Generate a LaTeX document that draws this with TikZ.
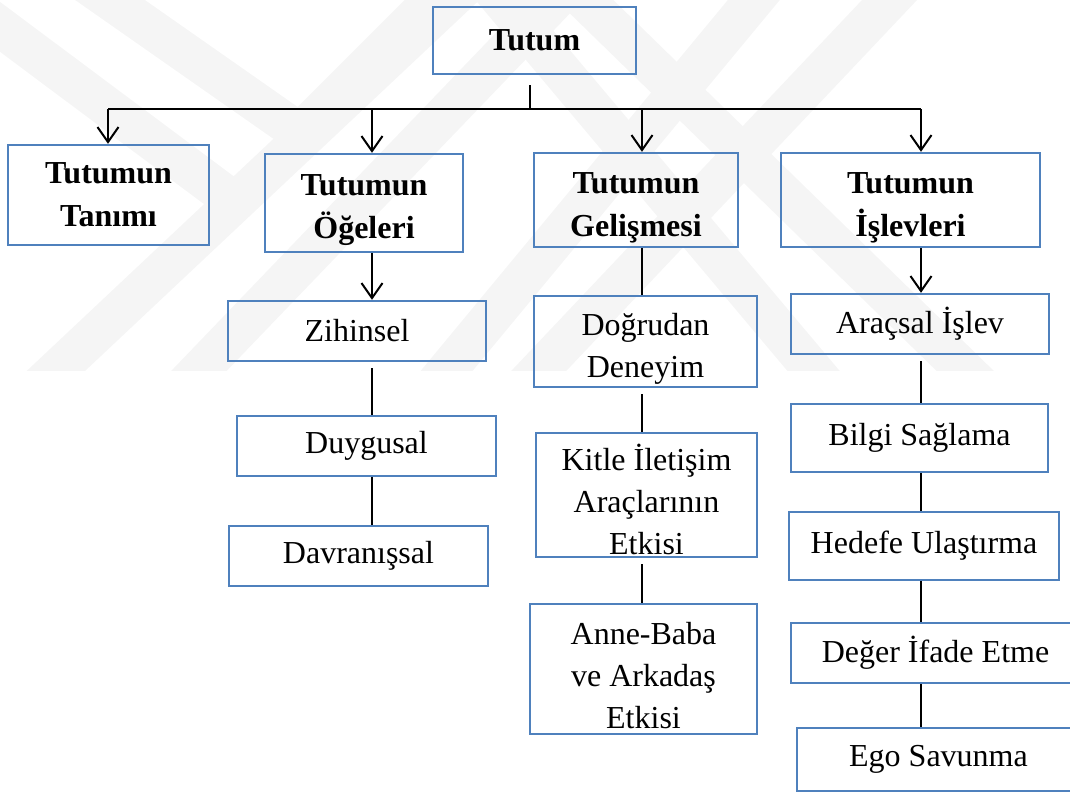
\documentclass[tikz,border=0pt]{standalone}
\usepackage{fontspec}
\setmainfont{Liberation Serif}
\usetikzlibrary{arrows.meta}
\definecolor{kutumavi}{RGB}{79,129,189}
\tikzset{
  kutu/.style={draw=kutumavi,line width=1.2pt,inner sep=0pt,align=center,font=\fontsize{16}{21}\selectfont},
  baslik/.style={kutu,font=\fontsize{16}{21.5}\selectfont\bfseries},
  cizgi/.style={line width=1pt},
  ok/.style={line width=1pt,-{Straight Barb[length=7.5pt,width=10.5pt]}},
  filigran/.style={line width=20pt,black!4}
}
\newcommand{\ust}{\rule{0pt}{18pt}}
\begin{document}
\begin{tikzpicture}[x=0.5pt,y=-0.5pt]
\clip (0,0) rectangle (1070,792);
\begin{scope}
\clip (0,0) rectangle (1070,370);
\draw[filigran] (-40,-3) -- (232,200);
\draw[filigran] (80,-21) -- (300,133) -- (455,-22);
\draw[filigran] (25,400) -- (480,-28);
\draw[filigran] (171,400) -- (582,-28);
\draw[filigran] (425,397) -- (777,-28);
\draw[filigran] (516,395) -- (916,-28);
\draw[filigran] (556,-28) -- (995,400);
\draw[filigran] (478,-28) -- (838,400);
\end{scope}
\node[baslik,minimum width=101.5pt,minimum height=33.5pt] (tutum) at (534.5,40.5) {Tutum};
\node[baslik,minimum width=100.5pt,minimum height=50pt] (tanim) at (108.5,195) {Tutumun\\Tanımı};
\node[baslik,minimum width=99pt,minimum height=49pt] (ogeler) at (364,203) {\ust Tutumun\\Öğeleri};
\node[baslik,minimum width=102pt,minimum height=47pt] (gelisme) at (636,200) {\ust Tutumun\\Gelişmesi};
\node[baslik,minimum width=129.5pt,minimum height=47pt] (islev) at (910.5,200) {\ust Tutumun\\İşlevleri};
\node[kutu,minimum width=129pt,minimum height=30pt] (zihinsel) at (357,331) {Zihinsel};
\node[kutu,minimum width=129.5pt,minimum height=30pt] (duygusal) at (366.5,446) {Duygusal};
\node[kutu,minimum width=129.5pt,minimum height=30pt] (davranis) at (358.5,556) {Davranışsal};
\node[kutu,minimum width=111.5pt,minimum height=45.5pt] (dogrudan) at (645.5,341.5) {\ust Doğrudan\\Deneyim};
\node[kutu,minimum width=110.5pt,minimum height=62pt] (kitle) at (646.5,495) {\ust Kitle İletişim\\Araçlarının\\Etkisi};
\node[kutu,minimum width=113.5pt,minimum height=65pt] (anne) at (643.5,669) {\ust Anne-Baba\\ve Arkadaş\\Etkisi};
\node[kutu,minimum width=129pt,minimum height=30pt] (aracsal) at (920,324) {Araçsal İşlev};
\node[kutu,minimum width=128.5pt,minimum height=34pt] (bilgi) at (919.5,438) {Bilgi Sağlama};
\node[kutu,minimum width=135pt,minimum height=34pt] (hedefe) at (924,546) {Hedefe Ulaştırma};
\node[kutu,minimum width=144.5pt,minimum height=30pt] (deger) at (935.5,653) {Değer İfade Etme};
\node[kutu,minimum width=141.5pt,minimum height=31.5pt] (ego) at (938.5,759.5) {Ego Savunma};
\coordinate (t) at (530,109);
\coordinate (b1) at (108,109);
\coordinate (b2) at (372,109);
\coordinate (b3) at (642,109);
\coordinate (b4) at (921,109);
\draw[cizgi,shorten <=5pt] (tutum.south -| t) -- (t);
\draw[cizgi] (b1) -- (b4);
\draw[ok] (b1) -- (tanim.north -| b1);
\draw[ok] (b2) -- (ogeler.north -| b2);
\draw[ok] (b3) -- (gelisme.north -| b3);
\draw[ok] (b4) -- (islev.north -| b4);
\draw[ok] (ogeler.south -| b2) -- (zihinsel.north -| b2);
\draw[cizgi,shorten <=3pt] (zihinsel.south -| b2) -- (duygusal.north -| b2);
\draw[cizgi] (duygusal.south -| b2) -- (davranis.north -| b2);
\draw[cizgi] (gelisme.south -| b3) -- (dogrudan.north -| b3);
\draw[cizgi,shorten <=3pt] (dogrudan.south -| b3) -- (kitle.north -| b3);
\draw[cizgi,shorten <=3pt] (kitle.south -| b3) -- (anne.north -| b3);
\draw[ok] (islev.south -| b4) -- (aracsal.north -| b4);
\draw[cizgi,shorten <=3pt] (aracsal.south -| b4) -- (bilgi.north -| b4);
\draw[cizgi] (bilgi.south -| b4) -- (hedefe.north -| b4);
\draw[cizgi] (hedefe.south -| b4) -- (deger.north -| b4);
\draw[cizgi] (deger.south -| b4) -- (ego.north -| b4);
\end{tikzpicture}
\end{document}
